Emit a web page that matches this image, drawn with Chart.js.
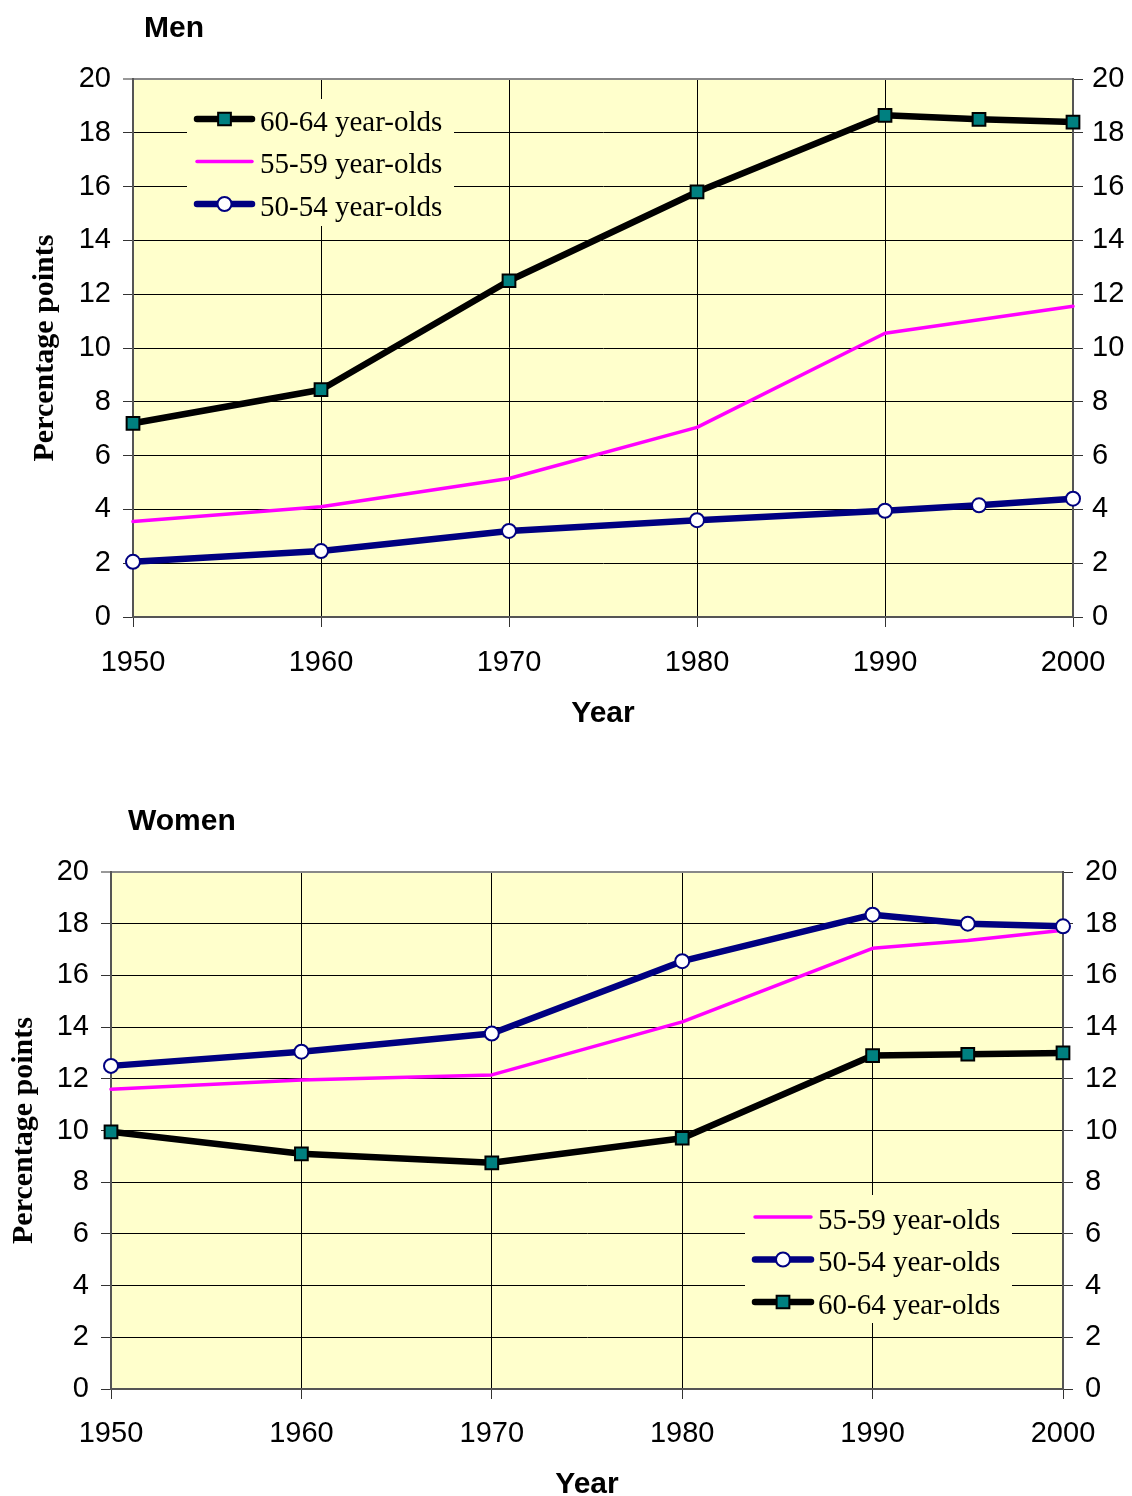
<!DOCTYPE html>
<html>
<head>
<meta charset="utf-8">
<title>Percentage points by age group, 1950-2000</title>
<script src="https://cdn.jsdelivr.net/npm/chart.js@4/dist/chart.umd.min.js"></script>
<style>
  html, body { margin: 0; padding: 0; background: #ffffff; }
  .panel { position: absolute; left: 0; width: 1132px; height: 748px; }
  #menPanel { top: 0; }
  #womenPanel { top: 748px; }
</style>
</head>
<body>
<div class="panel" id="menPanel"><canvas id="menChart" width="1132" height="748"></canvas></div>
<div class="panel" id="womenPanel"><canvas id="womenChart" width="1132" height="748"></canvas></div>

<script>
// ---- data ---------------------------------------------------------------
const years = [1950, 1960, 1970, 1980, 1990, 1995, 2000];

const men6064 = [7.2, 8.45, 12.5, 15.8, 18.65, 18.5, 18.4];
const men5559 = [3.55, 4.1, 5.15, 7.05, 10.55, 11.05, 11.55];
const men5054 = [2.05, 2.45, 3.2, 3.6, 3.95, 4.15, 4.4];

const women5054 = [12.5, 13.05, 13.75, 16.55, 18.35, 18.0, 17.9];
const women5559 = [11.6, 11.95, 12.15, 14.2, 17.05, 17.35, 17.75];
const women6064 = [9.95, 9.1, 8.75, 9.7, 12.9, 12.95, 13.0];

const label6064 = '60-64 year-olds';
const label5559 = '55-59 year-olds';
const label5054 = '50-54 year-olds';

const yearRange = [1950, 2000];
const yearStep = 10;
const pointsRange = [0, 20];
const pointsStep = 2;

// ---- look ---------------------------------------------------------------
const SANS = '"Liberation Sans", Arial, sans-serif';
const SERIF = '"Liberation Serif", "Times New Roman", serif';
const PLOT_BG = '#FFFFCC';

const seriesStyle = {
  a6064: {
    borderColor: '#000000', borderWidth: 6.5,
    pointStyle: 'rect', pointRadius: 9,
    pointBackgroundColor: '#008080', pointBorderColor: '#000000', pointBorderWidth: 2
  },
  a5559: {
    borderColor: '#FF00FF', borderWidth: 3.5, pointRadius: 0
  },
  a5054: {
    borderColor: '#000080', borderWidth: 6.5,
    pointStyle: 'circle', pointRadius: 7,
    pointBackgroundColor: '#FFFFFF', pointBorderColor: '#000080', pointBorderWidth: 2
  }
};

function series(label, values, style, order) {
  return Object.assign({
    label: label,
    data: years.map((yr, i) => ({ x: yr, y: values[i] })),
    tension: 0,
    fill: false,
    clip: false,
    order: order,
    borderJoinStyle: 'round',
    borderCapStyle: 'round',
    pointHoverRadius: style.pointRadius
  }, style);
}

// ---- plugins ------------------------------------------------------------
const plotBackground = {
  id: 'plotBackground',
  beforeDraw(chart) {
    const { ctx, chartArea: a } = chart;
    ctx.save();
    ctx.fillStyle = PLOT_BG;
    ctx.fillRect(a.left, a.top, a.right - a.left, a.bottom - a.top);
    ctx.restore();
  }
};

const panelTitle = {
  id: 'panelTitle',
  afterDraw(chart, args, opts) {
    const { ctx, chartArea: a } = chart;
    ctx.save();
    ctx.font = 'bold 30px ' + SANS;
    ctx.fillStyle = '#000000';
    ctx.textAlign = 'left';
    ctx.textBaseline = 'middle';
    ctx.fillText(opts.text, a.left + opts.dx, opts.y);
    ctx.restore();
  }
};

function drawMarker(ctx, ds, cx, cy) {
  if (!ds.pointRadius) return;
  ctx.save();
  ctx.fillStyle = ds.pointBackgroundColor;
  ctx.strokeStyle = ds.pointBorderColor;
  ctx.lineWidth = ds.pointBorderWidth;
  ctx.beginPath();
  if (ds.pointStyle === 'rect') {
    const h = ds.pointRadius * Math.SQRT1_2;
    ctx.rect(cx - h, cy - h, 2 * h, 2 * h);
  } else {
    ctx.arc(cx, cy, ds.pointRadius, 0, Math.PI * 2);
  }
  ctx.fill();
  ctx.stroke();
  ctx.restore();
}

const insideLegend = {
  id: 'insideLegend',
  afterDatasetsDraw(chart, args, opts) {
    const { ctx, chartArea: a } = chart;
    const x0 = a.left + opts.dx;
    const y0 = a.top + opts.dy;
    ctx.save();
    ctx.fillStyle = PLOT_BG;
    ctx.fillRect(x0, y0, opts.width, opts.height);
    ctx.font = '29px ' + SERIF;
    ctx.textAlign = 'left';
    ctx.textBaseline = 'middle';
    opts.entries.forEach((idx, i) => {
      const ds = chart.data.datasets[idx];
      const cy = y0 + opts.firstRow + i * opts.rowGap;
      const lx0 = x0 + opts.sampleLeft;
      const lx1 = lx0 + opts.sampleWidth;
      ctx.strokeStyle = ds.borderColor;
      ctx.lineWidth = ds.borderWidth;
      ctx.lineCap = 'round';
      ctx.beginPath();
      ctx.moveTo(lx0, cy);
      ctx.lineTo(lx1, cy);
      ctx.stroke();
      drawMarker(ctx, ds, (lx0 + lx1) / 2, cy);
      ctx.fillStyle = '#000000';
      ctx.fillText(ds.label, lx1 + opts.textGap, cy + 4);
    });
    ctx.restore();
  }
};

// ---- chart factory ------------------------------------------------------
function buildChart(canvasId, datasets, lay) {
  const edgeY = v => v === pointsRange[1];
  return new Chart(document.getElementById(canvasId), {
    type: 'line',
    data: { datasets: datasets },
    plugins: [plotBackground, panelTitle, insideLegend],
    options: {
      responsive: false,
      animation: false,
      events: [],
      layout: { padding: { top: lay.padTop, left: 0, right: 0, bottom: 0 } },
      plugins: {
        legend: { display: false },
        tooltip: { enabled: false },
        panelTitle: lay.title,
        insideLegend: lay.legend
      },
      scales: {
        x: {
          type: 'linear',
          position: 'bottom',
          min: yearRange[0],
          max: yearRange[1],
          afterFit: s => { s.height = lay.xHeight; },
          ticks: {
            stepSize: yearStep, autoSkip: false, maxRotation: 0,
            padding: lay.xTickPad, color: '#000000',
            font: { family: SANS, size: 29 },
            callback: v => String(v)
          },
          grid: { color: '#000000', lineWidth: 1, tickLength: 10, tickColor: '#333333', tickWidth: 1 },
          border: { color: '#555555', width: 2 },
          title: {
            display: true, text: 'Year', color: '#000000',
            font: { family: SANS, size: 30, weight: 'bold', lineHeight: 0.7 },
            padding: { top: 0, bottom: lay.xTitlePad }
          }
        },
        y: {
          position: 'left',
          min: pointsRange[0],
          max: pointsRange[1],
          afterFit: s => { s.width = lay.leftWidth; },
          ticks: {
            stepSize: pointsStep, padding: 12, color: '#000000',
            font: { family: SANS, size: 29 }
          },
          grid: {
            color: c => edgeY(c.tick && c.tick.value) ? '#888888' : '#000000',
            lineWidth: c => edgeY(c.tick && c.tick.value) ? 2 : 1,
            tickLength: 10, tickColor: '#333333', tickWidth: 1
          },
          border: { color: '#555555', width: 2 },
          title: {
            display: true, text: 'Percentage points', color: '#000000',
            font: { family: SERIF, size: 30, weight: 'bold', lineHeight: 1 },
            padding: { top: lay.yTitlePad, bottom: 0 }
          }
        },
        y2: {
          position: 'right',
          min: pointsRange[0],
          max: pointsRange[1],
          afterFit: s => { s.width = lay.rightWidth; },
          ticks: {
            stepSize: pointsStep, padding: lay.rightTickPad, color: '#000000',
            font: { family: SANS, size: 29 }
          },
          grid: { drawOnChartArea: false, tickLength: 10, tickColor: '#333333', tickWidth: 1 },
          border: { color: '#555555', width: 2 }
        }
      }
    }
  });
}

// Men: legend lists 60-64, 55-59, 50-54
buildChart('menChart', [
  series(label6064, men6064, seriesStyle.a6064, 0),
  series(label5559, men5559, seriesStyle.a5559, 1),
  series(label5054, men5054, seriesStyle.a5054, 2)
], {
  padTop: 79, leftWidth: 133, rightWidth: 59, xHeight: 131,
  xTickPad: 19, xTitlePad: 23.5, yTitlePad: 30, rightTickPad: 9,
  title: { text: 'Men', dx: 11, y: 29 },
  legend: {
    entries: [0, 1, 2], dx: 54, dy: 20, width: 267, height: 127,
    firstRow: 20, rowGap: 42.5, sampleLeft: 10, sampleWidth: 55, textGap: 8
  }
});

// Women: legend lists 55-59, 50-54, 60-64
buildChart('womenChart', [
  series(label5559, women5559, seriesStyle.a5559, 1),
  series(label5054, women5054, seriesStyle.a5054, 0),
  series(label6064, women6064, seriesStyle.a6064, 2)
], {
  padTop: 124, leftWidth: 111, rightWidth: 69, xHeight: 107,
  xTickPad: 18, xTitlePad: 0.5, yTitlePad: 9, rightTickPad: 12,
  title: { text: 'Women', dx: 17, y: 74 },
  legend: {
    entries: [0, 1, 2], dx: 634, dy: 323, width: 267, height: 128,
    firstRow: 22, rowGap: 42.5, sampleLeft: 10, sampleWidth: 56, textGap: 7
  }
});
</script>
</body>
</html>
